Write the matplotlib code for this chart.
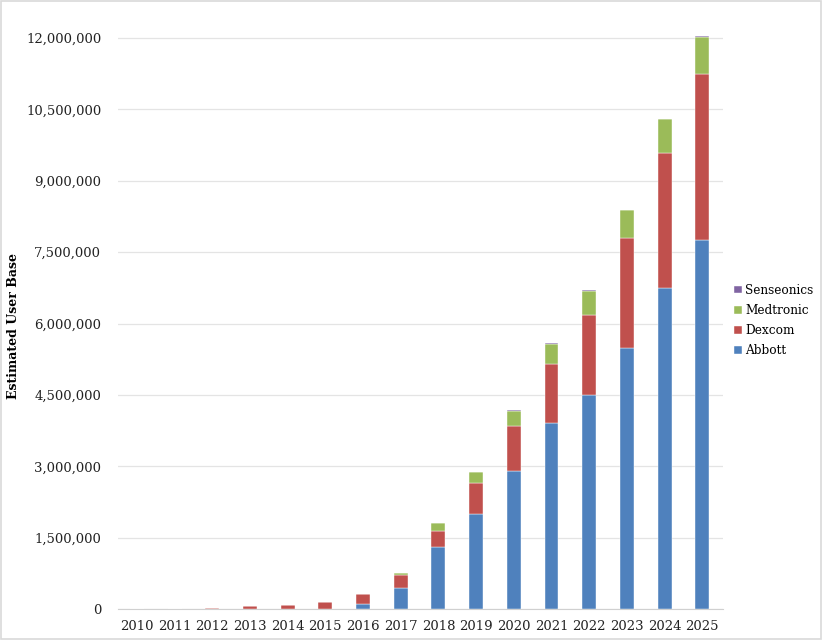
import numpy as np
import matplotlib.pyplot as plt
from matplotlib.ticker import FuncFormatter, MultipleLocator

# ---------------------------------------------------------------------------
#  data
# ---------------------------------------------------------------------------
years = [str(y) for y in range(2010, 2026)]

abbott = [0, 0, 0, 0, 0, 0, 112_000, 448_000, 1_300_000, 2_000_000,
          2_900_000, 3_900_000, 4_490_000, 5_490_000, 6_750_000, 7_750_000]
dexcom = [0, 5_000, 15_000, 55_000, 85_000, 140_000, 203_000, 258_000,
          340_000, 640_000, 940_000, 1_240_000, 1_700_000, 2_300_000,
          2_840_000, 3_490_000]
medtronic = [0, 0, 0, 0, 0, 0, 0, 56_000, 160_000, 230_000, 330_000,
             440_000, 500_000, 590_000, 700_000, 790_000]
senseonics = [0, 0, 0, 0, 0, 0, 0, 0, 2_000, 4_000, 6_000, 8_000,
              10_000, 12_000, 15_000, 20_000]

series = [
    ("Abbott", abbott, "#4F81BD"),
    ("Dexcom", dexcom, "#C0504D"),
    ("Medtronic", medtronic, "#9BBB59"),
    ("Senseonics", senseonics, "#8064A2"),
]

# ---------------------------------------------------------------------------
#  plot
# ---------------------------------------------------------------------------
plt.rcParams["font.family"] = ["DejaVu Serif"]

fig = plt.figure(figsize=(8.23, 6.4), dpi=100)
ax = fig.add_axes([118 / 823, 31 / 640, (723 - 118) / 823, (609 - 31) / 640])

x = np.arange(len(years))
bottom = np.zeros(len(years))
handles = []
for name, vals, color in series:
    vals = np.array(vals, dtype=float)
    h = ax.bar(x, vals, width=0.37, bottom=bottom, color=color,
               edgecolor="white", linewidth=0.3, label=name, zorder=3)
    handles.append(h)
    bottom += vals

ax.set_xlim(-0.5, len(years) - 0.45)
ax.set_ylim(0, 12_150_000)
ax.yaxis.set_major_locator(MultipleLocator(1_500_000))
ax.yaxis.set_major_formatter(FuncFormatter(lambda v, p: f"{int(v):,}"))
ax.set_xticks(x)
ax.set_xticklabels(years)
ax.tick_params(axis="both", length=0, labelsize=9.5, colors="#222222")
ax.tick_params(axis="y", pad=12)
ax.tick_params(axis="x", pad=8)

ax.grid(axis="y", color="#E4E4E4", linewidth=0.9, zorder=0)
for s in ["top", "right", "left"]:
    ax.spines[s].set_visible(False)
ax.spines["bottom"].set_color("#D0D0D0")

ax.set_ylabel("Estimated User Base", fontsize=9, fontweight="bold")
ax.yaxis.set_label_coords(-0.162, 0.49)

leg = ax.legend(handles[::-1], [s[0] for s in series][::-1],
                loc="center left", bbox_to_anchor=(1.005, 0.499),
                frameon=False, fontsize=8.7, handlelength=0.6,
                handleheight=0.6, handletextpad=0.3, labelspacing=0.6,
                borderaxespad=0.3)

# light frame around the whole picture
fig.patches.append(plt.Rectangle((0.001, 0.001), 0.997, 0.997,
                                 transform=fig.transFigure, fill=False,
                                 edgecolor="#D9D9D9", linewidth=1.2))

fig.savefig("out.png", dpi=100)
